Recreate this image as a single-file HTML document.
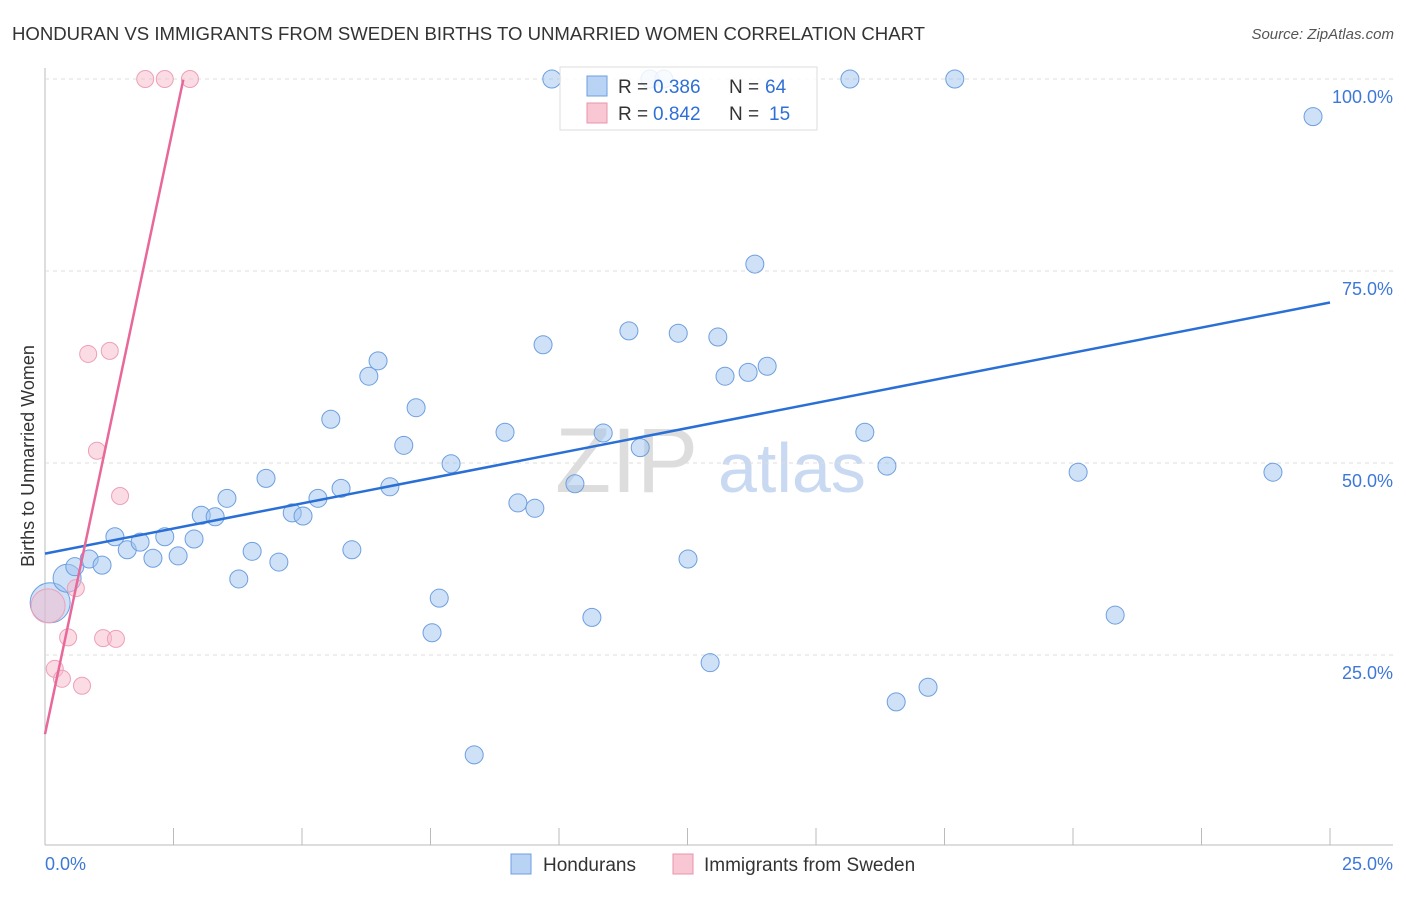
<!DOCTYPE html>
<html><head><meta charset="utf-8"><style>
body{margin:0;background:#fff;font-family:"Liberation Sans",sans-serif;}
svg text{font-family:"Liberation Sans",sans-serif;}
</style></head><body>
<svg id="chart" width="1406" height="892" xmlns="http://www.w3.org/2000/svg">
<text x="12" y="40" font-size="18.6" fill="#333" textLength="913">HONDURAN VS IMMIGRANTS FROM SWEDEN BIRTHS TO UNMARRIED WOMEN CORRELATION CHART</text>
<text x="1394" y="39" font-size="15" fill="#555" text-anchor="end" font-style="italic">Source: ZipAtlas.com</text>
<text transform="translate(34,456) rotate(-90)" font-size="18" fill="#333" text-anchor="middle">Births to Unmarried Women</text>
<g id="watermark"><text x="555" y="492" font-size="92" fill="#ddd" font-family="Liberation Serif">ZIP</text><text x="718" y="492" font-size="70" fill="#c9d9f2">atlas</text></g>
<g id="grid"></g>
<g id="marks"></g>
<g>
<rect x="560" y="67" width="257" height="63" fill="rgba(255,255,255,0.85)" stroke="#ddd"/>
<rect x="587" y="76" width="20" height="20" fill="#b9d3f5" stroke="#6d9fe0"/>
<rect x="587" y="103" width="20" height="20" fill="#f9c6d3" stroke="#e994ae"/>
<text x="618" y="93" font-size="19" fill="#333">R =</text><text x="653" y="93" font-size="19" fill="#2f6fd6">0.386</text>
<text x="729" y="93" font-size="19" fill="#333">N =</text><text x="765" y="93" font-size="19" fill="#2f6fd6">64</text>
<text x="618" y="120" font-size="19" fill="#333">R =</text><text x="653" y="120" font-size="19" fill="#2f6fd6">0.842</text>
<text x="729" y="120" font-size="19" fill="#333">N =</text><text x="769" y="120" font-size="19" fill="#2f6fd6">15</text>
</g>
<g>
<rect x="511" y="854" width="20" height="20" fill="#b9d3f5" stroke="#6d9fe0"/>
<text x="543" y="871" font-size="19" fill="#333">Hondurans</text>
<rect x="673" y="854" width="20" height="20" fill="#f9c6d3" stroke="#e994ae"/>
<text x="704" y="871" font-size="19" fill="#333">Immigrants from Sweden</text>
</g>
</svg>
<script>
const yTicks=[25,50,75,100];
const yTickLabels=["25.0%","50.0%","75.0%","100.0%"];
const xTicks=[2.5,5,7.5,10,12.5,15,17.5,20,22.5,25];
const blueX=[0.10,0.43,0.58,0.86,1.11,1.36,1.60,1.85,2.10,2.33,2.59,2.90,3.04,3.31,3.54,3.77,4.03,4.30,4.55,4.81,5.02,5.31,5.56,5.76,5.97,6.30,6.48,6.71,6.98,7.22,7.53,7.67,7.90,8.35,8.95,9.20,9.53,9.69,9.86,10.31,10.64,10.86,11.36,11.58,11.77,12.04,12.32,12.51,12.94,13.09,13.23,13.68,13.81,14.05,15.66,15.95,16.38,16.56,17.18,17.70,20.10,20.82,23.89,24.67];
const blueY=[31.8,35.0,36.5,37.5,36.7,40.4,38.7,39.7,37.6,40.4,37.9,40.1,43.2,43.0,45.4,34.9,38.5,48.0,37.1,43.5,43.1,45.4,55.7,46.7,38.7,61.3,63.3,46.9,52.3,57.2,27.9,32.4,49.9,12.0,54.0,44.8,44.1,65.4,100,47.3,29.9,53.9,67.2,52.0,100,100,66.9,37.5,24.0,66.4,61.3,61.8,75.9,62.6,100,54.0,49.6,18.9,20.8,100,48.8,30.2,48.8,95.1];
const pinkX=[0.06,0.19,0.33,0.45,0.60,0.72,0.84,1.01,1.13,1.26,1.38,1.46,1.95,2.33,2.82];
const pinkY=[31.4,23.2,21.9,27.3,33.7,21.0,64.2,51.6,27.2,64.6,27.1,45.7,100,100,100];
const blueLine=[38.2,70.9];
const pinkLine=[14.7,99.9];
const pinkLineEnd=2.69;
const NS="http://www.w3.org/2000/svg";
const X=v=>45+v/25*1285, Y=v=>847-v*7.68;
function mk(t,a,p){const e=document.createElementNS(NS,t);for(const k in a)e.setAttribute(k,a[k]);p.appendChild(e);return e;}
const g=document.getElementById('grid'),m=document.getElementById('marks');
mk('line',{x1:45,y1:68,x2:45,y2:845,stroke:'#bbb'},g);
mk('line',{x1:45,y1:845,x2:1393,y2:845,stroke:'#bbb'},g);
mk('line',{x1:45,y1:Y(100),x2:1393,y2:Y(100),stroke:'#ddd','stroke-dasharray':'4,4'},g);
yTicks.forEach((v,i)=>{
const l=mk('line',{x1:45,y1:Y(v),x2:1393,y2:Y(v),stroke:'#ddd','stroke-dasharray':'4,4'},g);


const t=mk('text',{x:1393,y:Y(v)+24,'font-size':18,fill:'#3d78d8','text-anchor':'end'},g);t.textContent=yTickLabels[i];


});
xTicks.forEach(v=>{const l=mk('line',{x1:X(v),y1:828,x2:X(v),y2:845,stroke:'#bbb'},g);

});
let t=mk('text',{x:45,y:870,'font-size':18,fill:'#3d78d8'},g);t.textContent='0.0%';


t=mk('text',{x:1393,y:870,'font-size':18,fill:'#3d78d8','text-anchor':'end'},g);t.textContent='25.0%';


blueX.forEach((x,i)=>{const r=i==0?20:(i==1?14:9);
const c=mk('circle',{cx:X(x),cy:Y(blueY[i]),r:r,fill:'rgba(160,196,240,0.5)',stroke:'#6d9fe0','stroke-width':1},m);

});
pinkX.forEach((x,i)=>{const r=i==0?17:8.5;
const c=mk('circle',{cx:X(x),cy:Y(pinkY[i]),r:r,fill:'rgba(248,185,204,0.5)',stroke:'#eda0b8','stroke-width':1},m);

});
let ln=mk('line',{x1:X(0),y1:Y(blueLine[0]),x2:X(25),y2:Y(blueLine[1]),stroke:'#2a6fd6','stroke-width':2.5},m);


ln=mk('line',{x1:X(0),y1:Y(pinkLine[0]),x2:X(pinkLineEnd),y2:Y(pinkLine[1]),stroke:'#e8689a','stroke-width':2.5},m);


</script>
</body></html>
